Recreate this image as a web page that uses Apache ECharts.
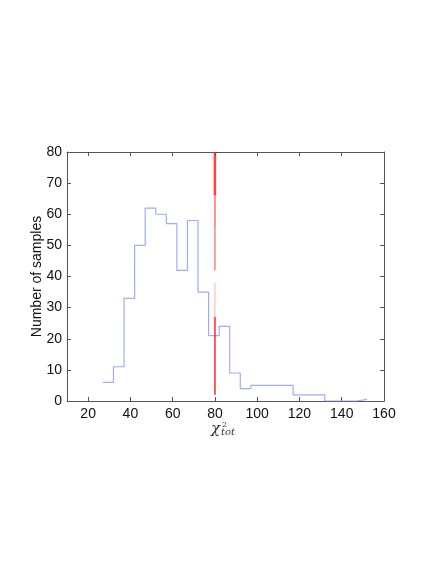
<!DOCTYPE html>
<html>
<head>
<meta charset="utf-8">
<script src="https://cdn.jsdelivr.net/npm/echarts@6/dist/echarts.min.js"></script>
<style>
  html, body { margin: 0; padding: 0; background: #fff; }
  #chart { width: 436px; height: 564px; }
</style>
</head>
<body>
<div id="chart"></div>
<script>
// histogram bin left edges (width 5) and counts
const binEdges = [27, 32, 37, 42, 47, 52, 57, 62, 67, 72, 77, 82, 87, 92, 97, 102, 107, 112, 117, 122, 127, 132, 137, 142, 147];
const binCounts = [6, 11, 33, 50, 62, 60, 57, 42, 58, 35, 21, 24, 9, 4, 5, 5, 5, 5, 2, 2, 2, 0, 0, 0, 0.5];
const lastEdge = 152;

// threshold line at x = 80, drawn as pieces of differing strength
const thresholdX = 80;
const thresholdPieces = [
  { from: 66, to: 80, opacity: 0.85, width: 2.5 },
  { from: 56, to: 66, opacity: 0.5, width: 2 },
  { from: 42, to: 56, opacity: 0.7, width: 1.2 },
  { from: 27, to: 38, opacity: 0.3, width: 1.2 },
  { from: 2, to: 27, opacity: 0.75, width: 2 }
];

const xTicks = [20, 40, 60, 80, 100, 120, 140, 160];

const histData = binEdges.map((e, i) => [e, binCounts[i]]);
histData.push([lastEdge, binCounts[binCounts.length - 1]]);

const chart = echarts.init(document.getElementById('chart'));

const axisLine = () => ({ show: true, onZero: false, lineStyle: { color: '#555', width: 1 } });
const tickIn = () => ({ show: true, inside: true, length: 4, lineStyle: { color: '#555' } });
const labelStyle = () => ({ color: '#111', fontSize: 14, fontFamily: 'Liberation Sans, Arial, sans-serif' });

const series = [
  {
    type: 'line',
    step: 'end',
    data: histData,
    symbol: 'none',
    xAxisIndex: 0,
    yAxisIndex: 0,
    lineStyle: { color: '#9cadff', width: 1.2 },
    z: 3
  }
];
thresholdPieces.forEach(p => {
  series.push({
    type: 'line',
    data: [[thresholdX, p.from], [thresholdX, p.to]],
    symbol: 'none',
    xAxisIndex: 0,
    yAxisIndex: 0,
    lineStyle: { color: '#ff2020', width: p.width, opacity: p.opacity },
    z: 4
  });
});

chart.setOption({
  animation: false,
  backgroundColor: '#fff',
  grid: { left: 67, right: 52, top: 152, bottom: 163 },
  xAxis: [
    {
      type: 'value', min: 10, max: 160, position: 'bottom',
      axisLine: axisLine(),
      axisTick: Object.assign(tickIn(), { customValues: xTicks }),
      splitLine: { show: false },
      axisLabel: Object.assign(labelStyle(), { margin: 6, customValues: xTicks })
    },
    {
      type: 'value', min: 10, max: 160, position: 'top',
      axisLine: axisLine(),
      axisTick: Object.assign(tickIn(), { customValues: xTicks }),
      splitLine: { show: false },
      axisLabel: { show: false }
    }
  ],
  yAxis: [
    {
      type: 'value', min: 0, max: 80, interval: 10, position: 'left',
      axisLine: axisLine(), axisTick: tickIn(), splitLine: { show: false },
      axisLabel: Object.assign(labelStyle(), { margin: 5 }),
      name: 'Number of samples', nameLocation: 'middle', nameGap: 23,
      nameMoveOverlap: false,
      nameTextStyle: { color: '#111', fontSize: 14, fontFamily: 'Liberation Sans, Arial, sans-serif' }
    },
    {
      type: 'value', min: 0, max: 80, interval: 10, position: 'right',
      axisLine: axisLine(), axisTick: tickIn(), splitLine: { show: false },
      axisLabel: { show: false }
    }
  ],
  graphic: [
    { type: 'text', left: 211, top: 422, style: { text: 'χ', font: 'italic 15px DejaVu Serif, serif', fill: '#333' } },
    { type: 'text', left: 222, top: 421, style: { text: '2', font: '8px DejaVu Serif, serif', fill: '#333' } },
    { type: 'text', left: 221, top: 427, style: { text: 'tot', font: 'italic 10px DejaVu Serif, serif', fill: '#333' } }
  ],
  series: series
});
</script>
</body>
</html>
